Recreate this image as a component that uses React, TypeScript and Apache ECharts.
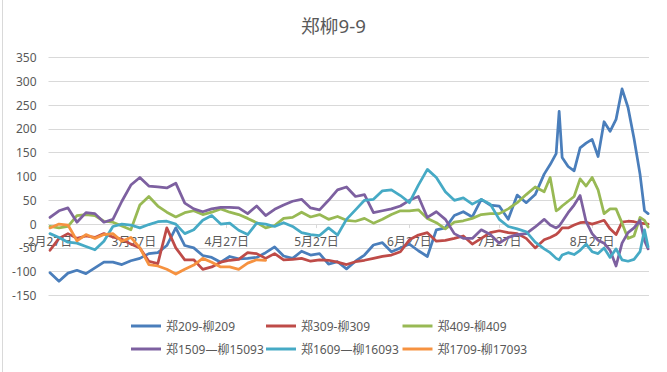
import React, { useEffect, useRef } from 'react';
import * as echarts from 'echarts';

const chartTitle = '郑柳9-9';
const seriesNames = ['郑209-柳209', '郑309-柳309', '郑409-柳409', '郑1509—柳15093', '郑1609—柳16093', '郑1709-柳17093'];
const seriesColors = ['#4A7EBB', '#BE4B48', '#98B954', '#7D60A0', '#46AAC5', '#F69240'];

// day offsets from 2月27日
const tickDays = [0, 28, 59, 89, 120, 150, 181];
const tickLabels = ['2月27日', '3月27日', '4月27日', '5月27日', '6月27日', '7月27日', '8月27日'];

const yMin = -150;
const yMax = 350;
const yStep = 50;

const days = [0, 3, 6, 9, 12, 15, 18, 21, 24, 27, 30, 33, 36, 39, 42, 45, 48, 51, 54, 57, 60, 63, 66, 69, 72, 75, 78, 81, 84, 87, 90, 93, 96, 99, 102, 105, 108, 111, 114, 117, 120, 123, 126, 129, 132, 135, 138, 141, 144, 147, 150, 153, 156, 159, 162, 165,
  167, 169, 170, 171, 173, 175, 177, 179, 181, 183, 185, 187, 189, 191, 193, 195, 197, 198.5, 199.7];

const s209 = [-102, -120, -103, -97, -104, -92, -80, -80, -85, -77, -72, -62, -60, -45, -8, -45, -50, -66, -70, -80, -68, -73, -72, -70, -60, -48, -67, -72, -57, -65, -62, -84, -79, -94, -78, -65, -44, -39, -58, -50, -42, -56, -68, -12, -8, 18, 26, 15, 52, 40, 38, 10, 61, 45, 62, 105,
  125, 148, 237, 140, 121, 112, 160, 170, 178, 142, 215, 195, 220, 284, 245, 180, 105, 28, 22];

const s309 = [-55, -30, -20, -30, -25, -28, -20, -27, -32, -42, -50, -78, -83, -8, -50, -75, -75, -95, -90, -80, -76, -74, -60, -62, -72, -62, -75, -74, -72, -78, -75, -76, -80, -85, -79, -76, -72, -68, -65, -58, -33, -23, -18, -36, -34, -30, -25, -42, -30, -18, -14, -18, -20, -30, -50, -33,
  -28, -22, -16, -8, -8, -2, 3, 4, 0, 4, 8, -10, -22, 4, 6, 5, 2, 1, 0];

const s409 = [-5, -8, -5, 18, 20, 18, 6, 4, -4, -12, 40, 58, 38, 25, 15, 24, 28, 20, 25, 32, 25, 20, 12, 3, -8, -3, 12, 14, 25, 15, 20, 10, 16, 8, 6, 12, 2, 10, 20, 28, 28, 30, 12, 3, -10, 4, 7, 12, 20, 22, 22, 32, 45, 62, 78, 68,
  98, 28, 32, 38, 48, 58, 95, 80, 98, 72, 22, 32, 32, 2, -30, -25, 14, 8, -6];

const s1509 = [14, 28, 34, 4, 24, 22, 4, 10, 48, 82, 98, 80, 78, 76, 86, 44, 32, 26, 32, 35, 35, 34, 22, 38, 18, 31, 40, 48, 52, 34, 30, 50, 72, 78, 58, 62, 24, 28, 32, 38, 50, 58, 14, 26, 10, -20, -30, -30, -12, -22, -40, -28, -22, -20, -6, 10,
  -2, -8, -4, 5, 24, 40, 60, 5, -20, -34, -40, -55, -88, -40, -18, -8, 8, -35, -52];

const s1609 = [-20, -28, -38, -40, -47, -54, -36, -5, 0, -2, -8, -1, 5, 6, 0, -20, -12, 8, 18, 0, 2, -13, -22, 2, 0, -5, 3, -5, -18, -22, -24, -8, -23, 10, 30, 50, 52, 70, 72, 60, 45, 82, 115, 98, 68, 50, 55, 42, 52, 42, 10, -5, -10, -16, -38, -52,
  -60, -72, -75, -65, -60, -64, -55, -42, -58, -62, -50, -70, -52, -75, -78, -74, -58, -12, -48];

const s1709 = [-8, 0, -2, -35, -22, -30, -22, -20, -36, -28, -50, -85, -88, -95, -105, -95, -86, -72, -80, -90, -90, -95, -82, -75, -76];

const allSeries = [s209, s309, s409, s1509, s1609, s1709];

const GRID_TOP = 57.5;
const GRID_BOTTOM = 76.5;
const H = 372;

export default function App() {
  const ref = useRef<HTMLDivElement>(null);
  useEffect(() => {
    const chart = echarts.init(ref.current!, null, { renderer: 'svg' });
    const font = "'Noto Sans', 'Noto Sans CJK SC', sans-serif";
    const plotH = H - GRID_TOP - GRID_BOTTOM;
    // distance from plot bottom to the value 0, so the category axis sits on 0
    const zeroOffset = -plotH * (0 - yMin) / (yMax - yMin);
    const legendBase = {
      orient: 'vertical',
      top: 320,
      padding: 0,
      icon: 'rect',
      itemWidth: 30,
      itemHeight: 3,
      itemGap: 11,
      textStyle: { color: '#595959', fontSize: 12, fontFamily: font },
    };
    chart.setOption({
      animation: false,
      backgroundColor: '#ffffff',
      title: {
        text: chartTitle,
        left: 'center',
        top: 16,
        padding: 0,
        textStyle: { color: '#595959', fontSize: 18.7, fontWeight: 'normal', fontFamily: font },
      },
      grid: { left: 48.5, right: 18, top: GRID_TOP, bottom: GRID_BOTTOM },
      legend: [
        { ...legendBase, left: 131, data: [seriesNames[0], seriesNames[3]] },
        { ...legendBase, left: 266, data: [seriesNames[1], seriesNames[4]] },
        { ...legendBase, left: 402.5, data: [seriesNames[2], seriesNames[5]] },
      ],
      xAxis: {
        type: 'value',
        min: -0.5,
        max: 200,
        position: 'bottom',
        offset: zeroOffset,
        axisLine: { show: true, onZero: false, lineStyle: { color: '#D9D9D9', width: 1 } },
        axisTick: { show: true, customValues: tickDays, length: 4, lineStyle: { color: '#D9D9D9' } },
        splitLine: { show: false },
        axisLabel: {
          customValues: tickDays,
          margin: 11,
          color: '#595959',
          fontSize: 12,
          fontFamily: font,
          formatter: (v: number) => {
            const i = tickDays.indexOf(Math.round(v));
            return i >= 0 ? tickLabels[i] : '';
          },
        },
      },
      yAxis: {
        type: 'value',
        min: yMin,
        max: yMax,
        interval: yStep,
        axisLine: { show: false, onZero: false },
        axisTick: { show: false },
        splitLine: { lineStyle: { color: '#D9D9D9', width: 1 } },
        axisLabel: { color: '#595959', fontSize: 12, margin: 12, fontFamily: font },
      },
      series: allSeries.map((vals, si) => ({
        type: 'line',
        name: seriesNames[si],
        symbol: 'none',
        showSymbol: false,
        color: seriesColors[si],
        lineStyle: { width: 2.75, color: seriesColors[si], join: 'round', cap: 'round' },
        data: vals.map((v, i) => [days[i], v]),
      })),
    });
    return () => chart.dispose();
  }, []);
  return (
    <div style={{ position: 'fixed', left: 0, top: 0, width: 667, height: 372, background: '#fff' }}>
      <div ref={ref} style={{ width: 667, height: 372 }} />
      <div style={{ position: 'absolute', left: 2, top: 0, width: 1, height: 372, background: '#D9D9D9' }} />
    </div>
  );
}
